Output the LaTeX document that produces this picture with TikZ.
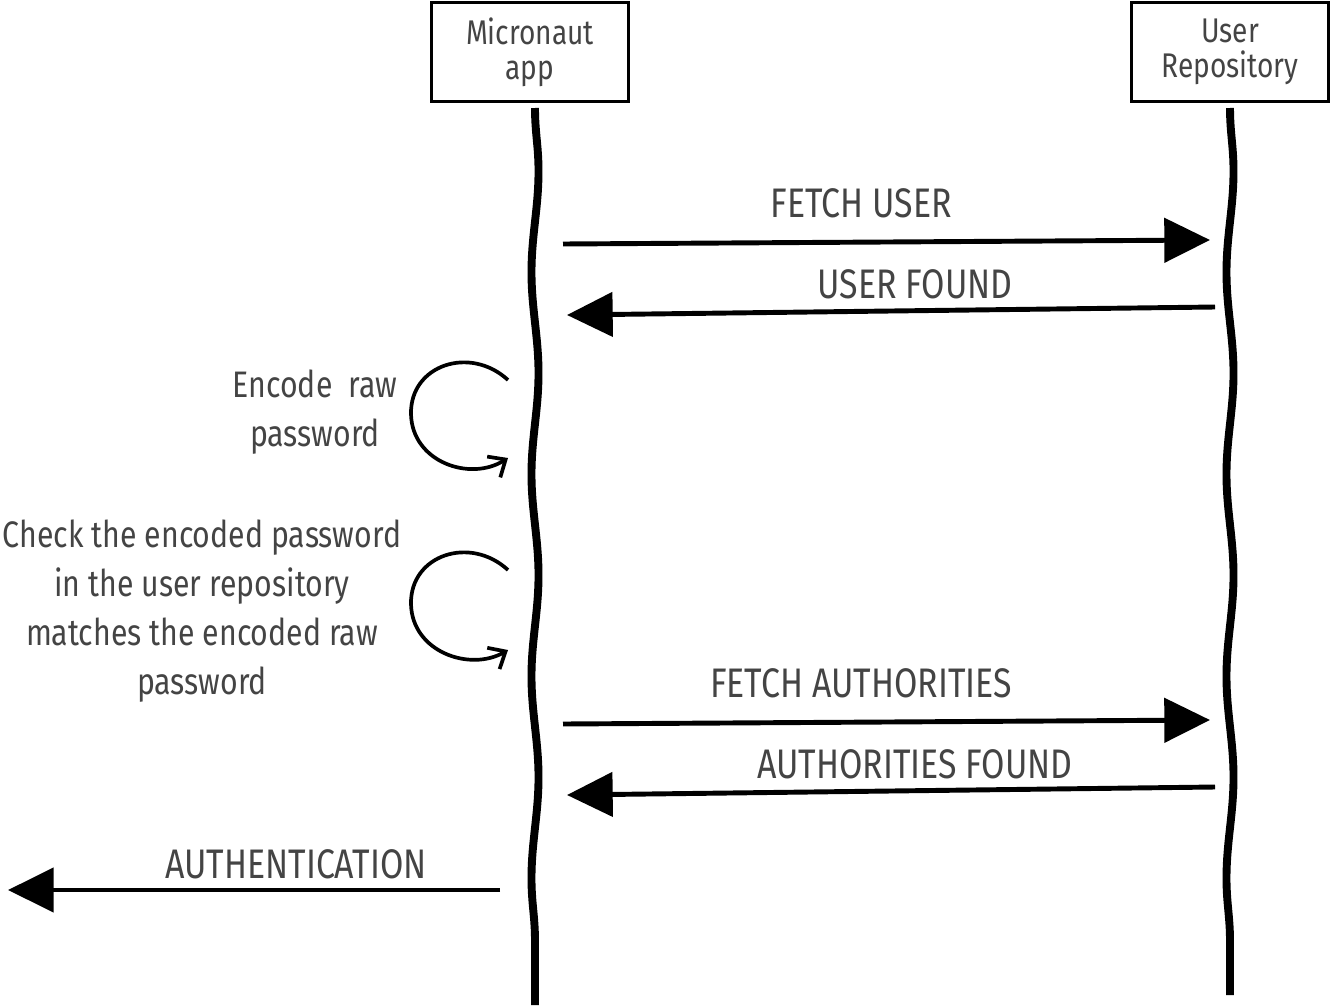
\documentclass[tikz,border=0pt]{standalone}
\usepackage{fontspec}
\setmainfont{Fira Sans}[FakeStretch=0.82]
\usepackage{xcolor}
\usetikzlibrary{arrows.meta}
\usetikzlibrary{decorations.pathmorphing}
\definecolor{inkgray}{HTML}{444444}

\begin{document}
\begin{tikzpicture}[x=0.02cm,y=-0.02cm,
	actor/.style={draw,line width=1.6pt,minimum width=3.94cm,minimum height=1.98cm,
		align=center,text=inkgray,font=\fontsize{19.5}{20}\selectfont},
	lifeline/.style={line width=4.5pt,decorate,
		decoration={snake,amplitude=2pt,segment length=115pt}},
	msg/.style={line width=2.8pt,-{Triangle[length=26pt,width=25pt]}},
	selfmsg/.style={line width=2.1pt,-{Straight Barb[length=8pt,width=14pt]}},
	lbl/.style={text=inkgray,align=center,font=\fontsize{21}{27.8}\selectfont},
	msglbl/.style={text=inkgray,font=\fontsize{23.5}{28}\selectfont}]
	\useasboundingbox (0,0) rectangle (1331,1007);
	\node[actor] (app) at (530,52) {Micronaut\\app};
	\node[actor] (repo) at (1230,52) {User\\Repository};
	\coordinate (appTop) at (535,108);
	\coordinate (appEnd) at (535,1005);
	\coordinate (repoTop) at (1230,108);
	\coordinate (repoEnd) at (1230,995);
	\draw[lifeline] (appTop) -- (appEnd);
	\draw[lifeline] (repoTop) -- (repoEnd);
	\coordinate (fetchS) at (563,244);
	\coordinate (fetchE) at (1210,240);
	\coordinate (foundS) at (1215,307);
	\coordinate (foundE) at (567,315);
	\coordinate (authS) at (563,724);
	\coordinate (authE) at (1210,720);
	\coordinate (authFoundS) at (1215,787);
	\coordinate (authFoundE) at (567,795);
	\coordinate (resultS) at (500,890);
	\coordinate (resultE) at (8,890);
	\coordinate (encS) at (508,380);
	\coordinate (encE) at (508,458);
	\coordinate (chkS) at (508,570);
	\coordinate (chkE) at (508,650);
	\draw[msg] (fetchS) -- (fetchE);
	\draw[msg] (foundS) -- (foundE);
	\draw[msg] (authS) -- (authE);
	\draw[msg] (authFoundS) -- (authFoundE);
	\draw[msg] (resultS) -- (resultE);
	\draw[selfmsg] (encS) .. controls (470,345) and (410,365) .. (411,414)
		.. controls (412,462) and (470,482) .. (encE);
	\draw[selfmsg] (chkS) .. controls (470,535) and (410,555) .. (411,604)
		.. controls (412,652) and (470,672) .. (chkE);
	\node[msglbl] (fetchLbl) at (861,203) {FETCH USER};
	\node[msglbl] (foundLbl) at (915,284) {USER FOUND};
	\node[lbl] (encLbl) at (315,412) {Encode\ \ raw\\password};
	\node[lbl] (chkLbl) at (202,611) {Check the encoded password\\in the user repository\\matches the encoded raw\\password};
	\node[msglbl] (authLbl) at (861,683) {FETCH AUTHORITIES};
	\node[msglbl] (authFoundLbl) at (915,764) {AUTHORITIES FOUND};
	\node[msglbl] (resultLbl) at (296,864) {AUTHENTICATION};
\end{tikzpicture}
\end{document}
